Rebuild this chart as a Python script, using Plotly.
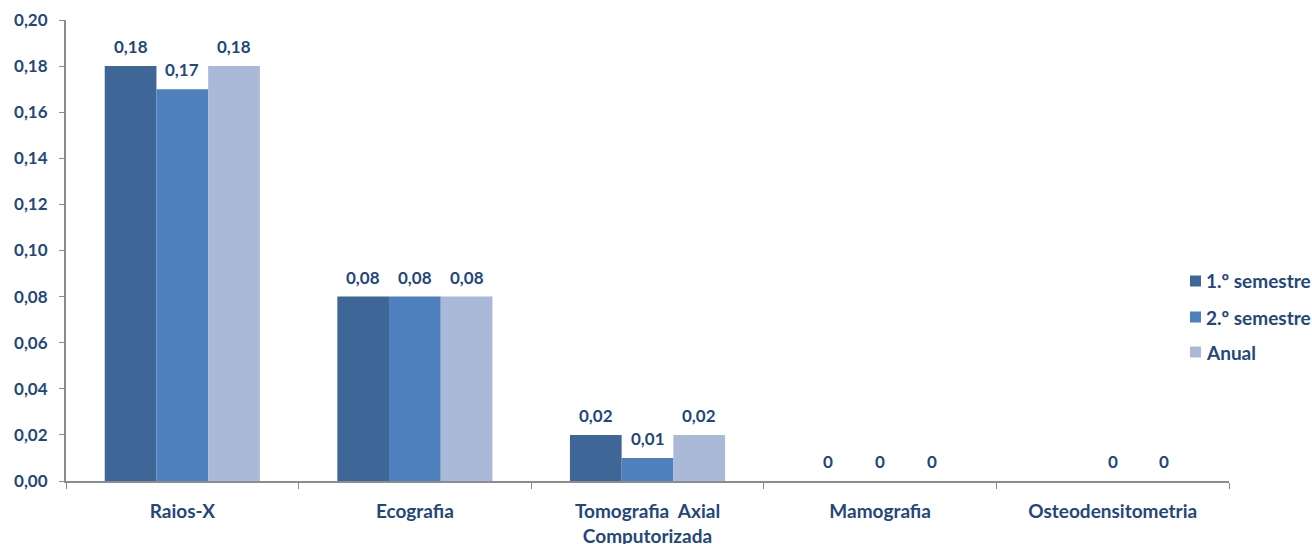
import plotly.graph_objects as go

categories = ["Raios-X", "Ecografia", "Tomografia  Axial<br>Computorizada", "Mamografia", "Osteodensitometria"]
sem1 = [0.18, 0.08, 0.02, 0, None]
sem2 = [0.17, 0.08, 0.01, 0, 0]
anual = [0.18, 0.08, 0.02, 0, 0]
series_names = ["1.º semestre", "2.º semestre", "Anual"]
colors = ["#3E6797", "#4D80BD", "#AAB9D8"]
y_ticks = [0, 0.02, 0.04, 0.06, 0.08, 0.10, 0.12, 0.14, 0.16, 0.18, 0.20]

FONT = "Lato"
TXT = "#24477A"
NUM_SIZE = 17
LBL_SIZE = 19

W, H = 1312, 544
ML, MR, MT, MB = 66, 83, 20, 63
PW, PH = W - ML - MR, H - MT - MB
BARGAP = 0.333


def fmt(v):
    return "0" if v == 0 else f"{v:.2f}".replace(".", ",")


def px_x(px):
    return (px - ML) / PW


def px_y(py):
    return (H - MB - py) / PH


fig = go.Figure()
all_series = [sem1, sem2, anual]
for name, vals, col in zip(series_names, all_series, colors):
    fig.add_trace(go.Bar(
        x=categories, y=vals, name=name,
        marker=dict(color=col, line=dict(width=0)),
        showlegend=False,
    ))

# value labels above each bar, shifted sideways to their bar within the group
bar_px = PW / len(categories) * (1 - BARGAP) / len(all_series)
for k, vals in enumerate(all_series):
    shift = (k - (len(all_series) - 1) / 2) * bar_px
    for cat, v in zip(categories, vals):
        if v is None:
            continue
        fig.add_annotation(
            x=cat, y=v, xref="x", yref="y", text=fmt(v), showarrow=False,
            xshift=shift, yanchor="bottom", yshift=7,
            font=dict(family=FONT, size=NUM_SIZE, color=TXT, weight="bold"),
        )

# legend: swatch + label per series, stacked on the right
legend_rows = [281, 317, 352]
for name, col, py in zip(series_names, colors, legend_rows):
    fig.add_shape(
        type="rect", xref="paper", yref="paper",
        x0=px_x(1190), x1=px_x(1201), y0=px_y(py + 5.5), y1=px_y(py - 5.5),
        fillcolor=col, line=dict(width=0),
    )
    fig.add_annotation(
        x=px_x(1204), y=px_y(py), xref="paper", yref="paper", text=name,
        showarrow=False, xanchor="left", yanchor="middle",
        font=dict(family=FONT, size=LBL_SIZE, color=TXT, weight="bold"),
    )

fig.update_layout(
    width=W, height=H,
    margin=dict(l=ML, r=MR, t=MT, b=MB, autoexpand=False),
    barmode="group", bargap=BARGAP, bargroupgap=0,
    plot_bgcolor="white", paper_bgcolor="white",
    separators=",.",
    font=dict(family=FONT, size=NUM_SIZE, color=TXT),
    showlegend=False,
)
fig.update_xaxes(
    type="category", tickson="boundaries", ticks="outside", ticklen=6,
    tickcolor="#8C8C8C", showline=True, linecolor="#8C8C8C", linewidth=2,
    showgrid=False, ticklabelstandoff=12, automargin=False,
    tickfont=dict(family=FONT, size=LBL_SIZE, color=TXT, weight="bold"),
)
fig.update_yaxes(
    range=[0, 0.2], tickvals=y_ticks, tickformat=".2f", ticks="outside", ticklen=5,
    tickcolor="#8C8C8C", showline=True, linecolor="#8C8C8C", linewidth=2,
    showgrid=False, zeroline=False, ticklabelstandoff=8, automargin=False,
    tickfont=dict(family=FONT, size=NUM_SIZE, color=TXT, weight="bold"),
)

fig.write_html("out.html")
